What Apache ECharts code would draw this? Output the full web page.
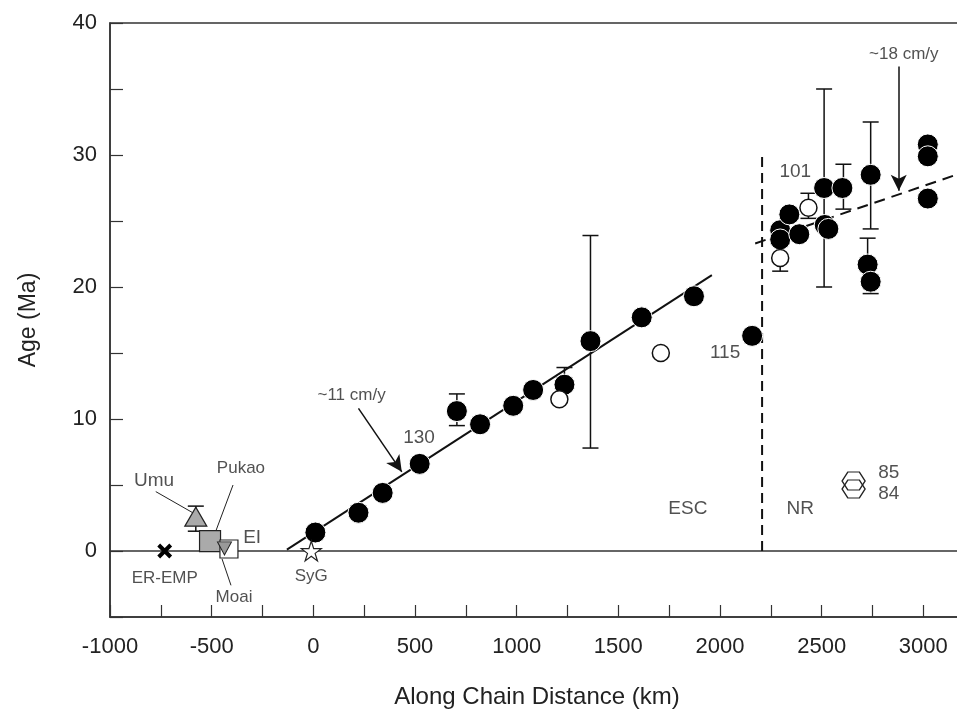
<!DOCTYPE html>
<html>
<head>
<meta charset="utf-8">
<script src="https://cdn.jsdelivr.net/npm/echarts@6/dist/echarts.min.js"></script>
<style>
html,body{margin:0;padding:0;background:#fff;overflow:hidden;}
#chart{width:970px;height:714px;}
</style>
</head>
<body>
<div id="chart"></div>
<script>
// ---- data (distance km, age Ma) ----
const escFilled = [[10,1.4],[222,2.9],[341,4.4],[523,6.6],[706,10.6],[820,9.6],[983,11.0],[1081,12.2],[1235,12.6],[1363,15.9],[1615,17.7],[1872,19.3],[2158,16.3]];
const nrFilled = [[2296,24.3],[2296,23.6],[2341,25.5],[2390,24.0],[2512,27.5],[2602,27.5],[2515,24.7],[2533,24.4],[2741,28.5],[2726,21.7],[2741,20.4],[3022,30.8],[3022,29.9],[3022,26.7]];
const openCircles = [[1210,11.5],[1709,15.0],[2435,26.0],[2296,22.2]];
const errorBars = [[706,9.5,11.9],[1235,12.6,13.9],[1363,7.8,23.9],[2512,20.0,35.0],[2607,25.9,29.3],[2741,24.4,32.5],[2726,21.7,23.7],[2741,19.5,20.4],[2435,25.2,27.1],[2296,21.2,22.2],[-578,1.5,3.4]];
const umu = [[-578,2.6]];
const pukao = [[-508,0.75]];
const ei = [[-415,0.15]];
const moai = [[-437,0.2]];
const erEmp = [[-731,0]];
const syg = [[-10,0]];
const hexagons = [[2657,5.3],[2657,4.7]];
const escFit = [[-130,0.1],[1960,20.9]];
const nrFit = [[2173,23.3],[3200,28.7]];
const escNrBoundary = [[2207,0],[2207,30.1]];
const bigLabels = [
  {name:'130', value:[520,8.6]},
  {name:'115', value:[2025,15.0]},
  {name:'101', value:[2370,28.7]},
  {name:'85', value:[2830,5.9]},
  {name:'84', value:[2830,4.3]},
  {name:'NR', value:[2395,3.2]},
  {name:'ESC', value:[1842,3.2]},
  {name:'Umu', value:[-783,5.3]},
  {name:'EI', value:[-301,1.0]}
];
const smallLabels = [
  {name:'~11 cm/y', value:[188,11.8]},
  {name:'~18 cm/y', value:[2904,37.6]},
  {name:'Pukao', value:[-356,6.25]},
  {name:'ER-EMP', value:[-731,-2.1]},
  {name:'Moai', value:[-390,-3.5]},
  {name:'SyG', value:[-10,-1.9]}
];
const leaders = [
  [[-775,4.5],[-593,2.9]],
  [[-395,5.0],[-504,0.5]],
  [[-405,-2.6],[-449,-0.6]]
];
const arrows = [
  [[222,10.8],[435,6.0]],
  [[2879,36.7],[2879,27.3]]
];
const xTicks = {min:-1000, max:3200, interval:250, labelEvery:500};
const yTicks = {min:-5, max:40, interval:5, labelEvery:10};

const FONT = "'Liberation Sans', Arial, sans-serif";
const chart = echarts.init(document.getElementById('chart'), null, {renderer:'canvas'});

const crossPath = 'path://M0,0L10,10M10,0L0,10';
const starPath = 'path://M50,0L61.8,36.3L100,36.3L69.1,58.8L80.9,95.1L50,72.6L19.1,95.1L30.9,58.8L0,36.3L38.2,36.3Z';
const hexPath = 'path://M0,40L25,0L75,0L100,40L75,80L25,80Z';
const invTriPath = 'path://M0,0L100,0L50,90Z';

function errorRender(params, api){
  const x = api.value(0), lo = api.value(1), hi = api.value(2);
  const p1 = api.coord([x, lo]), p2 = api.coord([x, hi]);
  const cw = 8;
  const style = {stroke:'#111', lineWidth:1.5};
  return {type:'group', children:[
    {type:'line', shape:{x1:p1[0],y1:p1[1],x2:p2[0],y2:p2[1]}, style:style},
    {type:'line', shape:{x1:p1[0]-cw,y1:p1[1],x2:p1[0]+cw,y2:p1[1]}, style:style},
    {type:'line', shape:{x1:p2[0]-cw,y1:p2[1],x2:p2[0]+cw,y2:p2[1]}, style:style}
  ]};
}

function labelSeries(data, size){
  return {type:'scatter', data:data, symbolSize:1, itemStyle:{color:'rgba(0,0,0,0)'}, z:9,
    label:{show:true, position:'inside', formatter:p => p.name, fontFamily:FONT, fontSize:size, color:'#262626'}};
}

const option = {
  animation:false,
  backgroundColor:'#fff',
  grid:{left:110, right:6, top:23, bottom:92, show:true, borderColor:'#333', borderWidth:1.5, backgroundColor:'transparent'},
  xAxis:{
    type:'value', min:xTicks.min, max:xTicks.max, interval:xTicks.interval,
    name:'Along Chain Distance (km)', nameLocation:'middle', nameGap:68,
    nameTextStyle:{fontFamily:FONT, fontSize:24, color:'#222'},
    axisLine:{show:true, onZero:false, lineStyle:{color:'#333', width:1.5}},
    axisTick:{show:true, inside:true, length:12, lineStyle:{color:'#333', width:1.2}},
    axisLabel:{fontFamily:FONT, fontSize:22, color:'#222', margin:19, showMaxLabel:false,
      formatter:v => (v % xTicks.labelEvery === 0 ? String(v) : '')},
    splitLine:{show:false}
  },
  yAxis:{
    type:'value', min:yTicks.min, max:yTicks.max, interval:yTicks.interval,
    name:'Age (Ma)', nameLocation:'middle', nameGap:70, nameRotate:90,
    nameTextStyle:{fontFamily:FONT, fontSize:23, color:'#222'},
    axisLine:{show:true, onZero:false, lineStyle:{color:'#333', width:1.5}},
    axisTick:{show:true, inside:true, length:13, lineStyle:{color:'#333', width:1.2}},
    axisLabel:{fontFamily:FONT, fontSize:22, color:'#222', margin:13,
      formatter:v => (v % yTicks.labelEvery === 0 ? String(v) : '')},
    splitLine:{show:false}
  },
  series:[
    {type:'line', data:[[xTicks.min,0],[xTicks.max,0]], symbol:'none', lineStyle:{color:'#333', width:1.5}, z:1, silent:true},
    {type:'line', data:escFit, symbol:'none', lineStyle:{color:'#111', width:2}, z:2},
    {type:'line', data:nrFit, symbol:'none', lineStyle:{color:'#111', width:2, type:[11,7]}, z:2},
    {type:'line', data:escNrBoundary, symbol:'none', lineStyle:{color:'#111', width:2, type:[10,6]}, z:2},
    {type:'custom', renderItem:errorRender, data:errorBars, z:3},
    {type:'scatter', data:escFilled, symbol:'circle', symbolSize:21, itemStyle:{color:'#000', borderColor:'#fff', borderWidth:1, opacity:1}, z:5},
    {type:'scatter', data:nrFilled, symbol:'circle', symbolSize:21, itemStyle:{color:'#000', borderColor:'#fff', borderWidth:1, opacity:1}, z:5},
    {type:'scatter', data:openCircles, symbol:'circle', symbolSize:17, itemStyle:{color:'#fff', borderColor:'#111', borderWidth:1.5, opacity:1}, z:6},
    {type:'scatter', data:umu, symbol:'triangle', symbolSize:[22,19], itemStyle:{color:'#aaa', borderColor:'#222', borderWidth:1.2, opacity:1}, z:6},
    {type:'scatter', data:pukao, symbol:'rect', symbolSize:21, itemStyle:{color:'#aaa', borderColor:'#222', borderWidth:1.2, opacity:1}, z:6},
    {type:'scatter', data:ei, symbol:'rect', symbolSize:18, itemStyle:{color:'#fff', borderColor:'#222', borderWidth:1.2, opacity:1}, z:7},
    {type:'scatter', data:moai, symbol:invTriPath, symbolSize:[14,13], itemStyle:{color:'#999', borderColor:'#222', borderWidth:1, opacity:1}, z:8},
    {type:'scatter', data:erEmp, symbol:crossPath, symbolSize:12, itemStyle:{color:'none', borderColor:'#000', borderWidth:4, opacity:1}, z:6},
    {type:'scatter', data:syg, symbol:starPath, symbolSize:20, itemStyle:{color:'#fff', borderColor:'#222', borderWidth:1.2, opacity:1}, z:6},
    {type:'scatter', data:hexagons, symbol:hexPath, symbolSize:[23,18], itemStyle:{color:'rgba(255,255,255,0)', borderColor:'#222', borderWidth:1.3, opacity:1}, z:6},
    labelSeries(bigLabels, 19),
    labelSeries(smallLabels, 17),
    {type:'line', data:[], symbol:'none', z:4,
      markLine:{silent:true, symbol:['none','none'], animation:false,
        lineStyle:{color:'#222', width:1, type:'solid'}, label:{show:false},
        data:leaders.map(l => [{coord:l[0]},{coord:l[1]}])}},
    {type:'line', data:[], symbol:'none', z:4,
      markLine:{silent:true, symbol:['none','arrow'], symbolSize:[12,16], animation:false,
        lineStyle:{color:'#111', width:1.5, type:'solid'}, label:{show:false},
        data:arrows.map(a => [{coord:a[0]},{coord:a[1]}])}}
  ]
};
chart.setOption(option);
</script>
</body>
</html>
